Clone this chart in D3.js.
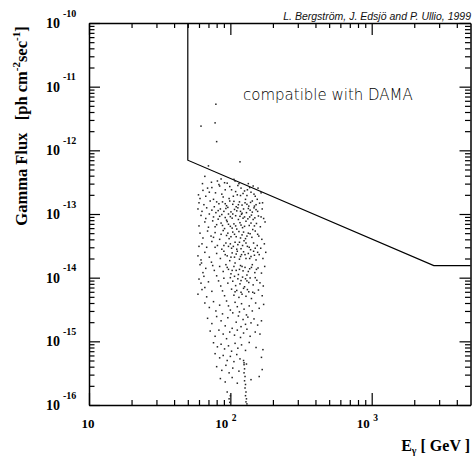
<!DOCTYPE html>
<html>
<head>
<meta charset="utf-8">
<script src="https://cdn.jsdelivr.net/npm/d3@7"></script>
<style>
  body { margin: 0; background: #fff; }
  text { white-space: pre; }
</style>
</head>
<body>
<svg id="chart" width="472" height="456"></svg>
<script>
// Axis decades
const energyTicks = [10, 100, 1000];
const fluxTicks = [1e-16, 1e-15, 1e-14, 1e-13, 1e-12, 1e-11, 1e-10];

// Upper limit curve (E in GeV, flux in ph cm^-2 s^-1)
const boundaryEnergy = [50, 50, 2750, 5000];
const boundaryFlux = [1e-10, 7e-13, 1.55e-14, 1.55e-14];

// Model points: [E_gamma (GeV), gamma flux]
const modelPoints = [
  // isolated high-flux models
  [79, 5.3e-12], [62, 2.4e-12], [78, 2.7e-12], [80, 1.37e-12], [117, 6.6e-13], [70, 5.7e-13],
  [66, 3.9e-13], [86, 3.55e-13], [106, 3.5e-13],
  // 1.6e-13 .. 3.4e-13
  [63.5, 3.0e-13], [69, 2.55e-13], [73.5, 3.15e-13], [78.5, 2.15e-13], [84, 2.75e-13], [89, 1.85e-13],
  [95, 3.05e-13], [102, 2.4e-13], [108, 3.3e-13], [112, 2.0e-13], [119, 2.55e-13], [128, 1.7e-13],
  [134, 3.0e-13], [140, 2.2e-13], [150, 1.9e-13], [157, 2.55e-13], [165, 2.15e-13], [67, 1.9e-13],
  [76, 1.7e-13], [98, 1.75e-13], [115, 3.0e-13], [123, 2.1e-13], [145, 2.75e-13], [71, 2.2e-13],
  [81, 3.3e-13], [92, 2.4e-13], [105, 1.9e-13], [132, 2.4e-13], [155, 1.7e-13], [61, 1.75e-13],
  [83, 2.9e-13], [91, 3.1e-13], [99, 2.7e-13], [113, 2.8e-13], [126, 2.3e-13], [137, 2.6e-13],
  [74, 2.6e-13], [87, 2.05e-13], [109, 2.25e-13], [118, 1.95e-13], [131, 1.95e-13], [147, 2.05e-13],
  [64, 2.35e-13], [59.5, 2.0e-13],
  // 2.7e-14 .. 1.6e-13
  [60, 1.5e-13], [65, 1.4e-13], [72, 1.6e-13], [77, 1.3e-13], [83, 1.45e-13], [88, 1.55e-13],
  [94, 1.35e-13], [99, 1.6e-13], [104, 1.42e-13], [110, 1.3e-13], [116, 1.55e-13], [121, 1.38e-13],
  [127, 1.5e-13], [135, 1.33e-13], [143, 1.6e-13], [152, 1.4e-13], [161, 1.48e-13],
  [80, 1.55e-13], [92, 1.45e-13], [106, 1.58e-13], [114, 1.4e-13], [131, 1.42e-13], [139, 1.52e-13],
  [148, 1.33e-13], [169, 1.5e-13],
  [59, 1.2e-13], [63, 1.1e-13], [68, 1.25e-13], [74, 1.15e-13], [79, 1.05e-13], [85, 1.2e-13],
  [90, 1.1e-13], [96, 1.27e-13], [101, 1.08e-13], [107, 1.18e-13], [113, 1.25e-13], [118, 1.1e-13],
  [124, 1.2e-13], [130, 1.05e-13], [138, 1.15e-13], [147, 1.25e-13], [156, 1.1e-13], [168, 1.2e-13],
  [82, 1.13e-13], [93, 1.22e-13], [104, 1.0e-13], [111, 1.12e-13], [121, 1.03e-13], [134, 1.22e-13],
  [143, 1.07e-13], [152, 1.17e-13],
  [62, 9.5e-14], [67, 8.5e-14], [71, 1.0e-13], [76, 9e-14], [82, 8.3e-14], [87, 9.8e-14],
  [92, 8.8e-14], [97, 1.0e-13], [103, 8.6e-14], [109, 9.4e-14], [114, 8.2e-14], [120, 9.9e-14],
  [126, 9e-14], [133, 8.4e-14], [141, 9.6e-14], [149, 8.7e-14], [158, 9.3e-14], [172, 8.5e-14],
  [84, 9.2e-14], [94, 8.0e-14], [100, 9.1e-14], [117, 9.2e-14], [123, 8.6e-14], [137, 9.0e-14],
  [145, 8.2e-14], [165, 9.0e-14],
  [60, 6.5e-14], [66, 7.5e-14], [70, 6.2e-14], [75, 7.8e-14], [80, 6.8e-14], [86, 7.2e-14],
  [91, 5.9e-14], [95, 7.6e-14], [100, 6.4e-14], [106, 7e-14], [111, 5.8e-14], [117, 7.3e-14],
  [122, 6.1e-14], [129, 7.7e-14], [136, 6.6e-14], [144, 5.7e-14], [153, 7.1e-14], [163, 6.3e-14],
  [176, 7.5e-14],
  [78, 6.3e-14], [88, 6.6e-14], [97, 6.9e-14], [103, 6.0e-14], [109, 6.5e-14], [119, 6.7e-14],
  [126, 6.4e-14], [140, 7.2e-14], [148, 6.5e-14],
  [61, 5e-14], [64, 4.2e-14], [69, 5.4e-14], [73, 4.5e-14], [78, 5.1e-14], [84, 4e-14],
  [89, 5.5e-14], [94, 4.6e-14], [98, 4.1e-14], [104, 5.2e-14], [110, 4.4e-14], [115, 5.3e-14],
  [121, 4.7e-14], [128, 4.1e-14], [134, 5e-14], [142, 4.3e-14], [150, 5.4e-14], [159, 4.5e-14],
  [167, 4e-14],
  [76, 4.3e-14], [86, 4.8e-14], [96, 5.0e-14], [101, 4.4e-14], [107, 4.8e-14], [118, 4.2e-14],
  [124, 5.2e-14], [131, 4.5e-14], [138, 4.9e-14], [156, 4.8e-14],
  [63, 3.4e-14], [68, 3e-14], [74, 3.7e-14], [81, 3.2e-14], [87, 2.8e-14], [93, 3.5e-14],
  [97, 3.1e-14], [102, 2.9e-14], [108, 3.6e-14], [113, 3.3e-14], [119, 2.85e-14], [125, 3.8e-14],
  [132, 3.1e-14], [139, 2.75e-14], [146, 3.5e-14], [155, 3.2e-14], [164, 2.9e-14], [174, 3.4e-14],
  [78, 3.0e-14], [90, 3.2e-14], [100, 3.4e-14], [105, 3.1e-14], [111, 2.8e-14], [116, 3.6e-14],
  [122, 3.2e-14], [129, 3.5e-14], [136, 3.0e-14], [150, 2.9e-14], [60, 3.1e-14],
  // diagonal streak
  [71, 2.1e-14], [73.5, 1.75e-14], [75, 1.55e-14], [77, 1.3e-14], [80, 1.07e-14], [82.5, 8.9e-15],
  [85.5, 7.4e-15], [88, 6.2e-15], [91, 5.2e-15], [94, 4.3e-15], [97, 3.6e-15], [100, 3.1e-15],
  [104, 2.8e-15],
  // 4.5e-15 .. 2.7e-14
  [59, 2.2e-14], [62, 1.9e-14], [66, 2.5e-14], [80, 2.4e-14], [85, 2.0e-14], [90, 2.6e-14],
  [95, 2.2e-14], [99, 1.85e-14], [103, 2.45e-14], [107, 2.1e-14], [112, 2.6e-14], [116, 1.95e-14],
  [120, 2.3e-14], [124, 2.55e-14], [129, 2.0e-14], [134, 2.4e-14], [140, 2.15e-14], [146, 2.6e-14],
  [152, 1.9e-14], [160, 2.3e-14], [170, 2.0e-14], [178, 2.5e-14],
  [92, 2.3e-14], [101, 2.1e-14], [110, 2.35e-14], [118, 2.15e-14], [127, 2.3e-14], [137, 2.0e-14],
  [148, 2.25e-14], [156, 2.5e-14], [62.5, 1.7e-14],
  [61, 1.6e-14], [67, 1.4e-14], [84, 1.5e-14], [89, 1.25e-14], [93, 1.6e-14], [97, 1.35e-14],
  [101, 1.15e-14], [106, 1.5e-14], [110, 1.3e-14], [114, 1.12e-14], [118, 1.55e-14], [123, 1.28e-14],
  [127, 1.45e-14], [131, 1.1e-14], [137, 1.38e-14], [143, 1.6e-14], [149, 1.2e-14], [157, 1.42e-14],
  [166, 1.18e-14], [175, 1.5e-14],
  [95, 1.45e-14], [103, 1.3e-14], [108, 1.7e-14], [116, 1.35e-14], [121, 1.5e-14], [134, 1.25e-14],
  [141, 1.45e-14], [153, 1.35e-14], [64, 1.2e-14],
  [60, 9.5e-15], [65, 1.05e-14], [70, 8.6e-15], [90, 9.8e-15], [96, 8.2e-15], [100, 1.0e-14],
  [104, 8.8e-15], [109, 7.5e-15], [113, 9.6e-15], [117, 8.0e-15], [122, 1.02e-14], [126, 7.2e-15],
  [131, 8.9e-15], [138, 9.9e-15], [145, 7.7e-15], [154, 9.1e-15], [162, 8.3e-15], [171, 7.4e-15],
  [107, 1.05e-14], [119, 9.0e-15], [128, 9.6e-15], [135, 8.4e-15], [150, 1.0e-14], [62, 8.2e-15],
  [66, 7.0e-15],
  [59, 5.5e-15], [63, 6.5e-15], [68, 5.0e-15], [74, 6.1e-15], [102, 6.6e-15], [106, 5.3e-15],
  [111, 6.3e-15], [115, 4.9e-15], [119, 5.9e-15], [124, 6.8e-15], [129, 5.1e-15], [135, 6.0e-15],
  [141, 4.7e-15], [148, 5.7e-15], [158, 6.4e-15], [168, 5.2e-15],
  [108, 6.0e-15], [121, 5.5e-15], [132, 6.5e-15], [144, 5.9e-15],
  // 1e-15 .. 4.5e-15
  [66, 4.0e-15], [71, 3.4e-15], [76, 4.2e-15], [79, 3.0e-15], [84, 3.7e-15], [88, 2.7e-15],
  [108, 4.1e-15], [112, 3.5e-15], [116, 2.9e-15], [120, 3.9e-15], [125, 3.2e-15], [130, 2.6e-15],
  [136, 3.6e-15], [143, 3.0e-15], [151, 4.0e-15], [160, 3.3e-15], [172, 3.8e-15],
  [69, 2.3e-15], [74, 1.9e-15], [80, 2.45e-15], [86, 2.1e-15], [92, 1.75e-15], [96, 2.35e-15],
  [110, 2.0e-15], [114, 2.5e-15], [119, 1.7e-15], [123, 2.2e-15], [128, 1.85e-15], [133, 2.4e-15],
  [140, 1.95e-15], [147, 2.25e-15], [156, 1.8e-15], [166, 2.1e-15],
  [72, 1.45e-15], [78, 1.2e-15], [83, 1.5e-15], [89, 1.3e-15], [94, 1.1e-15], [99, 1.4e-15],
  [103, 1.6e-15], [107, 1.25e-15], [112, 1.5e-15], [118, 1.15e-15], [124, 1.35e-15], [131, 1.55e-15],
  [138, 1.2e-15], [150, 1.4e-15], [162, 1.3e-15],
  // below 1e-15
  [76, 9.5e-16], [81, 8.2e-16], [86, 9.0e-16], [91, 7.6e-16], [97, 8.5e-16], [102, 7.0e-16],
  [108, 9.3e-16], [113, 7.8e-16], [120, 8.8e-16], [128, 7.2e-16], [136, 9.6e-16], [152, 8.0e-16],
  [170, 7.4e-16],
  [78, 6.4e-16], [84, 5.5e-16], [89, 6.0e-16], [95, 5.0e-16], [100, 5.8e-16], [106, 4.8e-16],
  [111, 6.2e-16], [117, 5.3e-16], [125, 4.6e-16], [166, 5.6e-16],
  [80, 4.0e-16], [87, 3.5e-16], [93, 4.2e-16], [98, 3.2e-16], [104, 3.8e-16], [115, 3.4e-16],
  [130, 4.4e-16], [168, 3.6e-16],
  [85, 2.6e-16], [92, 2.3e-16], [103, 2.7e-16], [112, 2.2e-16], [140, 2.5e-16], [160, 2.8e-16],
  [95, 1.6e-16], [100, 1.4e-16], [98, 1.25e-16], [99, 1.1e-16],
  // near-vertical run around 125-130 GeV
  [124, 5.0e-16], [125, 4.3e-16], [126, 3.7e-16], [125, 3.2e-16], [127, 2.8e-16], [126, 2.4e-16],
  [128, 2.1e-16], [127, 1.85e-16], [129, 1.6e-16], [128, 1.4e-16], [130, 1.25e-16], [129, 1.12e-16],
  [131, 1.04e-16]
];

const svg = d3.select("#chart");
const plotLeft = 89, plotRight = 470.5, plotTop = 23, plotBottom = 405;

const x = d3.scaleLog().domain([10, 5000]).range([plotLeft, plotRight]);
const y = d3.scaleLog().domain([1e-16, 1e-10]).range([plotBottom, plotTop]);

// minor ticks: 2..9 times each decade inside the domain
function minors(scale) {
  const [a, b] = scale.domain();
  const out = [];
  for (let d = Math.pow(10, Math.floor(Math.log10(a))); d < b; d *= 10) {
    for (let k = 2; k <= 9; k++) {
      const v = k * d;
      if (v > a && v < b) out.push(v);
    }
  }
  return out;
}
const xMinor = minors(x);
const yMinor = minors(y);

function styleAxis(g) {
  g.selectAll("path.domain").attr("stroke", "#000").attr("stroke-width", 1.5);
  g.selectAll(".tick line").attr("stroke", "#000").attr("stroke-width", 1.2);
  g.selectAll(".tick text").remove();
}
function addAxis(axis, tr, values, size, keepDomain) {
  const g = svg.append("g").attr("transform", tr)
    .call(axis.tickValues(values).tickSize(size).tickSizeOuter(0).tickFormat(""));
  styleAxis(g);
  if (!keepDomain) g.select("path.domain").remove();
}
// ticks point into the frame on all four sides
addAxis(d3.axisBottom(x), `translate(0,${plotBottom})`, energyTicks, -12, true);
addAxis(d3.axisBottom(x), `translate(0,${plotBottom})`, xMinor, -5, false);
addAxis(d3.axisTop(x), `translate(0,${plotTop})`, energyTicks, -12, true);
addAxis(d3.axisTop(x), `translate(0,${plotTop})`, xMinor, -5, false);
addAxis(d3.axisLeft(y), `translate(${plotLeft},0)`, fluxTicks, -11, true);
addAxis(d3.axisLeft(y), `translate(${plotLeft},0)`, yMinor, -5.5, false);
addAxis(d3.axisRight(y), `translate(${plotRight},0)`, fluxTicks, -11, true);
addAxis(d3.axisRight(y), `translate(${plotRight},0)`, yMinor, -5.5, false);

// tick labels
const serif = "'Liberation Serif', 'Times New Roman', serif";
const yLab = svg.append("g").attr("font-family", serif).attr("font-weight", "bold");
fluxTicks.forEach(t => {
  const py = y(t);
  yLab.append("text").attr("x", 60).attr("y", py + 5).attr("text-anchor", "end")
    .attr("font-size", 14).text("10");
  yLab.append("text").attr("x", 63).attr("y", py - 6.5).attr("font-size", 10)
    .text(String(Math.round(Math.log10(t))));
});
const xLab = svg.append("g").attr("font-family", serif).attr("font-weight", "bold");
energyTicks.forEach(t => {
  const px = x(t);
  const e = Math.round(Math.log10(t));
  if (e === 1) {
    xLab.append("text").attr("x", px - 1).attr("y", 428).attr("text-anchor", "middle")
      .attr("font-size", 13).text("10");
  } else {
    xLab.append("text").attr("x", px - 2).attr("y", 428).attr("text-anchor", "end")
      .attr("font-size", 13).text("10");
    xLab.append("text").attr("x", px + 1.5).attr("y", 421).attr("font-size", 9.5).text(String(e));
  }
});

// axis titles
const xt = svg.append("text").attr("x", 470).attr("y", 451).attr("text-anchor", "end")
  .attr("font-family", serif).attr("font-weight", "bold").attr("font-size", 16);
xt.append("tspan").text("E");
xt.append("tspan").attr("font-size", 10).attr("dy", 3).text("γ");
xt.append("tspan").attr("dy", -3).text(" [ GeV ]");

const yt = svg.append("text").attr("transform", "translate(27,126) rotate(-90)")
  .attr("text-anchor", "middle").attr("font-family", serif).attr("font-weight", "bold")
  .attr("font-size", 16.5);
yt.append("tspan").text("Gamma Flux   [ph cm");
yt.append("tspan").attr("font-size", 11).attr("dy", -7).text("-2");
yt.append("tspan").attr("dy", 7).text("sec");
yt.append("tspan").attr("font-size", 11).attr("dy", -7).text("-1");
yt.append("tspan").attr("dy", 7).text("]");

// credit line
svg.append("text").attr("x", 471).attr("y", 19.5).attr("text-anchor", "end")
  .attr("font-family", "'Liberation Sans', Arial, sans-serif").attr("font-style", "italic")
  .attr("font-size", 10.5).attr("fill", "#111")
  .text("L. Bergström, J. Edsjö and P. Ullio, 1999");

// region label
svg.append("text").attr("x", 243).attr("y", 100)
  .attr("font-family", "'DejaVu Sans', sans-serif").attr("font-weight", 300)
  .attr("font-size", 15).attr("fill", "#000").text("compatible with DAMA");

// limit curve
const line = d3.line().x(d => x(d[0])).y(d => y(d[1]));
svg.append("path")
  .datum(boundaryEnergy.map((e, i) => [e, boundaryFlux[i]]))
  .attr("d", line).attr("fill", "none").attr("stroke", "#000").attr("stroke-width", 1.2);

// scatter of models
svg.append("g").selectAll("rect").data(modelPoints).join("rect")
  .attr("x", d => x(d[0]) - 0.75).attr("y", d => y(d[1]) - 0.75)
  .attr("width", 1.5).attr("height", 1.5).attr("fill", "#222");
</script>
</body>
</html>
